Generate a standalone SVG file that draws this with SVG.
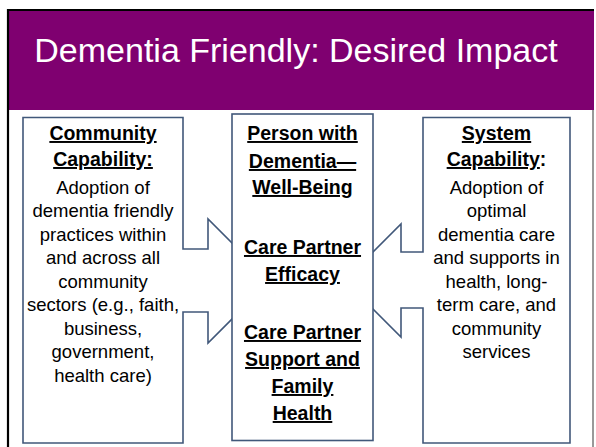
<svg xmlns="http://www.w3.org/2000/svg" width="596" height="447" viewBox="0 0 596 447">
<style>
.shape{fill:#fff;stroke:#41587a;stroke-width:1.6;stroke-linejoin:miter}
.t{font-family:"Liberation Sans",Arial,sans-serif;fill:#000;text-anchor:middle}
.h{font-weight:bold;font-size:19.5px;text-decoration:underline}
.b{font-size:18.5px}
.title{font-family:"Liberation Sans",Arial,sans-serif;font-size:34px;fill:#fff;text-anchor:middle}
</style>
<rect x="0" y="0" width="596" height="447" fill="#fff"/>
<g id="header">
<rect x="8" y="10" width="586" height="100" fill="#7f0070"/>
<line x1="7" y1="10" x2="594" y2="10" stroke="#000" stroke-width="2"/>
<line x1="8" y1="9" x2="8" y2="447" stroke="#000" stroke-width="2.2"/>
<line x1="593" y1="110" x2="593" y2="447" stroke="#555" stroke-width="1.2"/>
<text class="title" x="296" y="62">Dementia Friendly: Desired Impact</text>
</g>
<g id="connectors"></g>
<g id="community">
<path class="shape" d="M23,117.5 H183 V249 H208 V219 L270,281 L208,343 V312 H183 V443 H23 Z"/>
<text class="t h" x="103" y="140">Community</text>
<text class="t h" x="103" y="166">Capability:</text>
<text class="t b" x="103" y="194">Adoption of</text>
<text class="t b" x="103" y="217">dementia friendly</text>
<text class="t b" x="103" y="241">practices within</text>
<text class="t b" x="103" y="264">and across all</text>
<text class="t b" x="103" y="288">community</text>
<text class="t b" x="103" y="311">sectors (e.g., faith,</text>
<text class="t b" x="103" y="335">business,</text>
<text class="t b" x="103" y="358">government,</text>
<text class="t b" x="103" y="382">health care)</text>
</g>
<g id="system">
<path class="shape" d="M570,117.5 V443 H423 V308 H401 V337 L344.5,280.5 L401,224 V252 H423 V117.5 Z"/>
<text class="t h" x="496.5" y="140">System</text>
<text class="t" x="496.5" y="166" font-weight="bold" font-size="19.5"><tspan text-decoration="underline">Capability</tspan>:</text>
<text class="t b" x="496.5" y="194">Adoption of</text>
<text class="t b" x="496.5" y="217">optimal</text>
<text class="t b" x="496.5" y="241">dementia care</text>
<text class="t b" x="496.5" y="264">and supports in</text>
<text class="t b" x="496.5" y="288">health, long-</text>
<text class="t b" x="496.5" y="311">term care, and</text>
<text class="t b" x="496.5" y="335">community</text>
<text class="t b" x="496.5" y="358">services</text>
</g>
<g id="person">
<rect class="shape" x="232" y="114" width="141" height="326.5"/>
<text class="t h" x="302.5" y="140">Person with</text>
<text class="t h" x="302.5" y="168">Dementia—</text>
<text class="t h" x="302.5" y="194">Well-Being</text>
<text class="t h" x="302.5" y="254">Care Partner</text>
<text class="t h" x="302.5" y="281">Efficacy</text>
<text class="t h" x="302.5" y="339">Care Partner</text>
<text class="t h" x="302.5" y="366">Support and</text>
<text class="t h" x="302.5" y="393">Family</text>
<text class="t h" x="302.5" y="420">Health</text>
</g>
</svg>
